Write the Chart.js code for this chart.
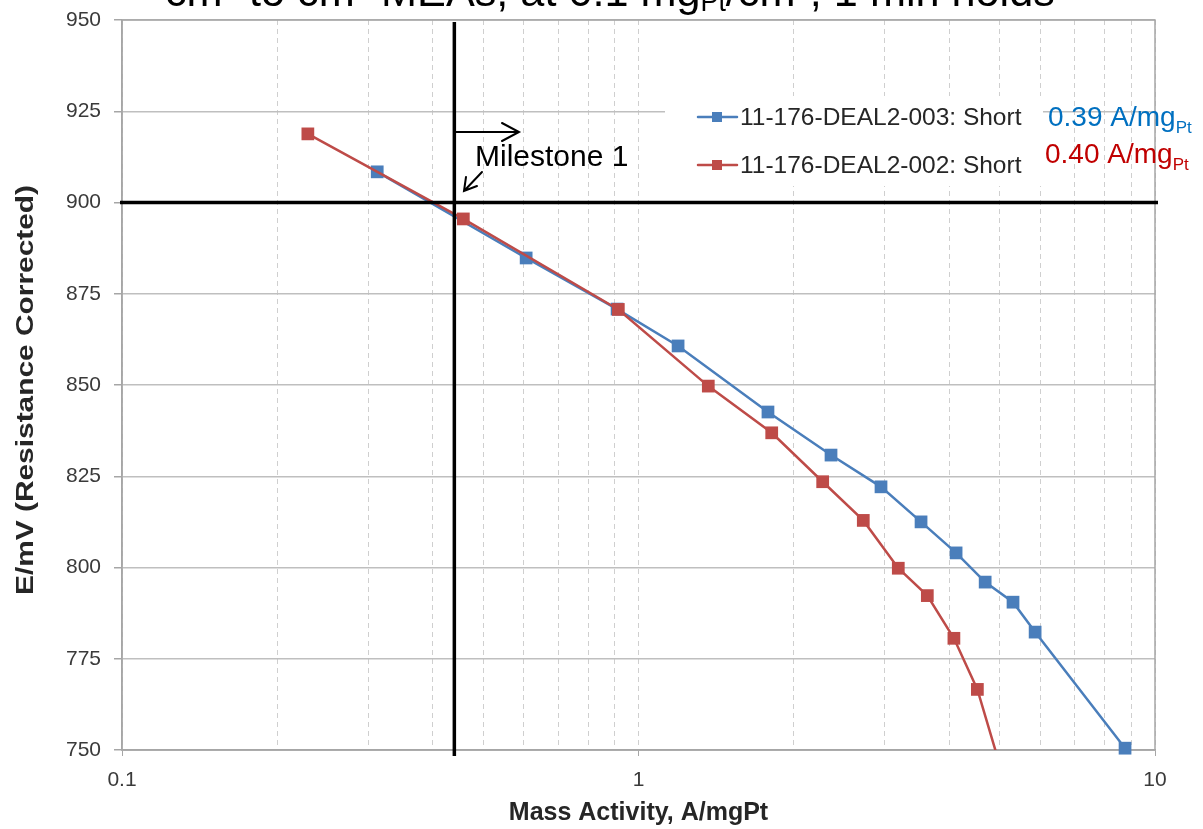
<!DOCTYPE html>
<html>
<head>
<meta charset="utf-8">
<script src="https://cdn.jsdelivr.net/npm/chart.js@4.4.1/dist/chart.umd.min.js"></script>
<style>
  html, body { margin: 0; padding: 0; background: #ffffff; }
  canvas { display: block; }
</style>
</head>
<body>
<canvas id="chart" width="1203" height="829"></canvas>
<script>
// Polarization data: mass activity (A/mgPt) vs. resistance-corrected potential (mV)
const massActivity003 = [0.312, 0.606, 0.909, 1.193, 1.781, 2.359, 2.948, 3.524, 4.12, 4.69, 5.31, 5.86, 8.75];
const potential003    = [908.4, 884.8, 870.8, 860.7, 842.6, 830.8, 822.1, 812.5, 804.0, 796.0, 790.5, 782.3, 750.5];
const massActivity002 = [0.229, 0.458, 0.914, 1.365, 1.811, 2.273, 2.724, 3.184, 3.624, 4.08, 4.53, 5.15];
const potential002    = [918.8, 895.5, 870.7, 849.7, 836.9, 823.5, 812.9, 799.8, 792.3, 780.6, 766.6, 740.0];

const seriesNames  = ['11-176-DEAL2-003: Short', '11-176-DEAL2-002: Short'];
const seriesValues = ['0.39 A/mg', '0.40 A/mg'];
const xTickLabels  = [0.1, 1, 10];
const yTickLabels  = [750, 775, 800, 825, 850, 875, 900, 925, 950];
const milestoneActivity  = 0.44;
const milestonePotential = 900;
const milestoneLabel = 'Milestone 1';
const xAxisTitle = 'Mass Activity, A/mgPt';
const yAxisTitle = 'E/mV (Resistance Corrected)';
const headerParts = ['cm\u00B2 to cm\u00B2 MEAs, at 0.1 mg', 'Pt', '/cm\u00B2, 1 min holds'];

const BLUE = '#4A7EBB';
const RED = '#BE4B48';
const FONT = 'Arial, "Liberation Sans", sans-serif';

const toPoints = (xs, ys) => xs.map((x, i) => ({ x, y: ys[i] }));

// Minor + major positions for the log axis grid (1..9 per decade)
function logGridValues(min, max) {
  const out = [];
  for (let d = min; d < max; d *= 10) {
    for (let k = 1; k <= 9; k++) out.push(+(k * d).toPrecision(6));
  }
  out.push(max);
  return out;
}

const overlay = {
  id: 'overlay',
  beforeDatasetsDraw(chart) {
    const { ctx, chartArea: a } = chart;
    ctx.save();
    ctx.strokeStyle = '#A6A6A6';
    ctx.lineWidth = 1.5;
    ctx.strokeRect(a.left, a.top, a.right - a.left, a.bottom - a.top);
    ctx.restore();
  },
  afterDatasetsDraw(chart) {
    const { ctx, chartArea: a, scales } = chart;
    const xs = scales.x, ys = scales.y;
    ctx.save();

    // Milestone cross-hair
    const mx = xs.getPixelForValue(milestoneActivity);
    const my = ys.getPixelForValue(milestonePotential);
    ctx.strokeStyle = '#000';
    ctx.lineWidth = 3.5;
    ctx.beginPath();
    ctx.moveTo(mx, a.top + 2); ctx.lineTo(mx, a.bottom + 6);
    ctx.moveTo(a.left - 2, my); ctx.lineTo(a.right + 3, my);
    ctx.stroke();

    // Arrows pointing to the milestone region
    ctx.lineWidth = 2;
    ctx.lineCap = 'round';
    ctx.beginPath();
    ctx.moveTo(mx, 132); ctx.lineTo(519, 132);
    ctx.moveTo(502, 123); ctx.lineTo(519, 132); ctx.lineTo(502, 141);
    ctx.moveTo(482, 172); ctx.lineTo(464, 191);
    ctx.moveTo(466, 177); ctx.lineTo(464, 191); ctx.lineTo(477, 186);
    ctx.stroke();

    ctx.fillStyle = '#000';
    ctx.font = '30px ' + FONT;
    ctx.textBaseline = 'alphabetic';
    ctx.fillText(milestoneLabel, 475, 166);

    // Legend box
    ctx.fillStyle = '#fff';
    ctx.fillRect(665, 96, 378, 90);
    const rows = [117, 165];
    const colors = [BLUE, RED];
    rows.forEach((y, i) => {
      ctx.strokeStyle = colors[i];
      ctx.lineWidth = 2.5;
      ctx.beginPath(); ctx.moveTo(698, y); ctx.lineTo(737, y); ctx.stroke();
      ctx.fillStyle = colors[i];
      ctx.fillRect(712, y - 5, 10, 10);
      ctx.fillStyle = '#262626';
      ctx.font = '24.5px ' + FONT;
      ctx.textBaseline = 'middle';
      ctx.fillText(seriesNames[i], 740, y + 1);
    });

    // Mass-activity values next to the legend
    const valueColors = ['#0070C0', '#C00000'];
    const valueX = [1048, 1045];
    const valueBase = [126, 163];
    ctx.textBaseline = 'alphabetic';
    valueBase.forEach((b, i) => {
      ctx.fillStyle = valueColors[i];
      ctx.font = '28px ' + FONT;
      ctx.fillText(seriesValues[i], valueX[i], b);
      const w = ctx.measureText(seriesValues[i]).width;
      ctx.font = '17px ' + FONT;
      ctx.fillText('Pt', valueX[i] + w, b + 7);
    });

    // Y axis title, spread along the axis
    ctx.save();
    ctx.fillStyle = '#262626';
    ctx.font = 'bold 23px ' + FONT;
    ctx.textAlign = 'center';
    ctx.textBaseline = 'middle';
    const tw = ctx.measureText(yAxisTitle).width;
    ctx.translate(27, 390);
    ctx.rotate(-Math.PI / 2);
    ctx.scale(410 / tw, 1);
    ctx.fillText(yAxisTitle, 0, 0);
    ctx.restore();

    // Header line (runs off the top edge)
    ctx.fillStyle = '#000';
    const fit = (size) => {
      let w = 0;
      ctx.font = size + 'px ' + FONT; w += ctx.measureText(headerParts[0]).width + ctx.measureText(headerParts[2]).width;
      ctx.font = (size * 0.62) + 'px ' + FONT; w += ctx.measureText(headerParts[1]).width;
      return w;
    };
    const size = 32 * 890 / fit(32);
    const big = size + 'px ' + FONT, small = (size * 0.62) + 'px ' + FONT;
    let x = 165;
    ctx.font = big; ctx.fillText(headerParts[0], x, 6); x += ctx.measureText(headerParts[0]).width;
    ctx.font = small; ctx.fillText(headerParts[1], x, 11); x += ctx.measureText(headerParts[1]).width;
    ctx.font = big; ctx.fillText(headerParts[2], x, 6);

    ctx.restore();
  }
};

new Chart(document.getElementById('chart'), {
  type: 'scatter',
  data: {
    datasets: [
      {
        label: seriesNames[1],
        data: toPoints(massActivity002, potential002),
        showLine: true,
        borderColor: RED,
        backgroundColor: RED,
        borderWidth: 2.5,
        pointStyle: 'rect',
        pointRadius: 9,
        pointBorderWidth: 0,
        tension: 0,
        clip: 0,
        order: 0
      },
      {
        label: seriesNames[0],
        data: toPoints(massActivity003, potential003),
        showLine: true,
        borderColor: BLUE,
        backgroundColor: BLUE,
        borderWidth: 2.5,
        pointStyle: 'rect',
        pointRadius: 9,
        pointBorderWidth: 0,
        tension: 0,
        clip: { left: 0, top: 0, right: 0, bottom: 8 },
        order: 1
      }
    ]
  },
  options: {
    responsive: false,
    devicePixelRatio: 1,
    animation: false,
    layout: { padding: { top: 20, right: 48, left: 0, bottom: 0 } },
    plugins: {
      legend: { display: false },
      tooltip: { enabled: false }
    },
    scales: {
      x: {
        type: 'logarithmic',
        min: xTickLabels[0],
        max: xTickLabels[xTickLabels.length - 1],
        afterBuildTicks(scale) {
          scale.ticks = logGridValues(scale.min, scale.max).map(v => ({ value: v }));
        },
        afterFit(scale) { scale.height = 79; },
        ticks: {
          autoSkip: false,
          maxRotation: 0,
          padding: 12,
          color: '#3A3A3A',
          font: { family: FONT, size: 21 },
          callback: v => (xTickLabels.includes(v) ? String(v) : '')
        },
        grid: {
          color: '#CFCFCF',
          lineWidth: 1,
          tickLength: 6,
          tickColor: ctx => (ctx.tick && xTickLabels.includes(ctx.tick.value) ? '#A6A6A6' : 'rgba(0,0,0,0)')
        },
        border: { display: true, color: '#A6A6A6', width: 1.5, dash: [5, 4] },
        title: {
          display: true,
          text: xAxisTitle,
          color: '#262626',
          font: { family: FONT, size: 25, weight: 'bold' },
          padding: { top: 0, bottom: 1 }
        }
      },
      y: {
        min: yTickLabels[0],
        max: yTickLabels[yTickLabels.length - 1],
        afterBuildTicks(scale) {
          scale.ticks = yTickLabels.map(v => ({ value: v }));
        },
        afterFit(scale) {
          scale.width = 122;
          scale.paddingTop = 0;
          scale.paddingBottom = 0;
        },
        ticks: {
          padding: 13,
          color: '#3A3A3A',
          font: { family: FONT, size: 21 }
        },
        grid: {
          color: '#BFBFBF',
          lineWidth: 1.5,
          tickLength: 8,
          tickColor: '#A6A6A6'
        },
        border: { display: true, color: '#A6A6A6', width: 1.5 },
        title: { display: false }
      }
    }
  },
  plugins: [overlay]
});
</script>
</body>
</html>
